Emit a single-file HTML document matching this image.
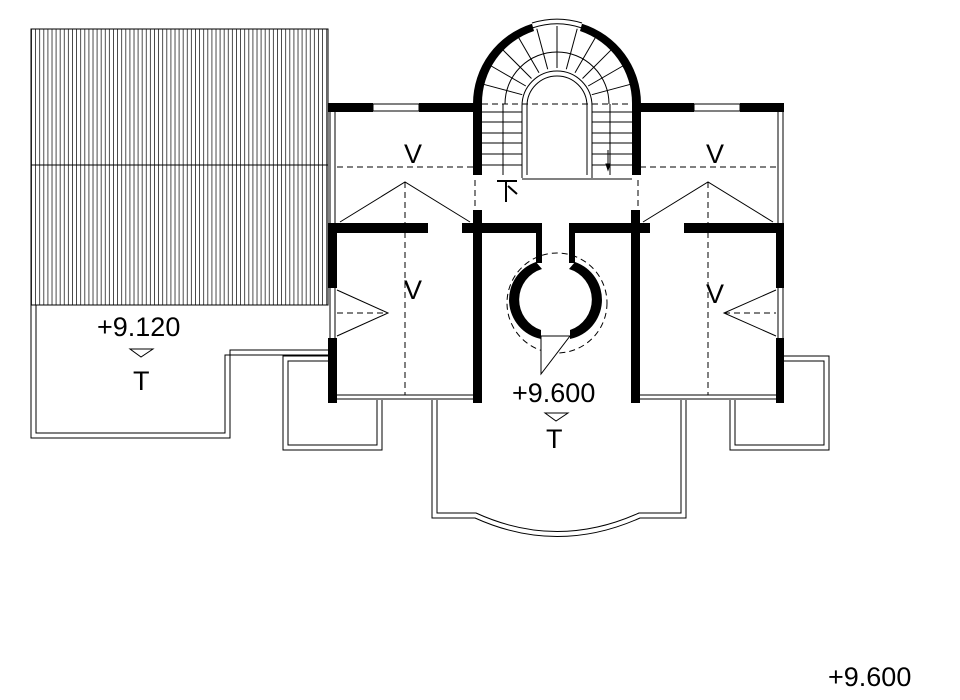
<!DOCTYPE html>
<html><head><meta charset="utf-8"><style>
html,body{margin:0;padding:0;background:#fff}
svg{display:block}
text{font-family:"Liberation Sans",sans-serif;fill:#000}
</style></head><body>
<svg width="960" height="700" viewBox="0 0 960 700" xmlns="http://www.w3.org/2000/svg">
<defs>
<pattern id="roof" x="31" y="0" width="4.1" height="10" patternUnits="userSpaceOnUse">
<line x1="0.5" y1="0" x2="0.5" y2="10" stroke="#000" stroke-width="0.7"/>
</pattern>
</defs>
<g fill="none" stroke="#000" stroke-width="1">
<rect x="31" y="29" width="297" height="276" fill="url(#roof)"/>
<line x1="31" y1="165" x2="328" y2="165"/>
<path d="M31 305 V438 H230 V350 H328"/>
<path d="M36 305 V433 H225 V355 H328"/>
<path d="M328 356 H283 V450 H382 V400"/>
<path d="M328 361 H288 V445 H377 V400"/>
<path d="M784 356 H829 V450 H730 V400"/>
<path d="M784 361 H824 V445 H735 V400"/>
<path d="M432 400 V518 H475 Q557 555 640 518 H686 V400"/>
<path d="M437 400 V513 H476 Q557 550 639 513 H681 V400"/>
<line x1="337" y1="395" x2="473" y2="395"/><line x1="337" y1="399" x2="473" y2="399"/>
<line x1="640" y1="395" x2="776" y2="395"/><line x1="640" y1="399" x2="776" y2="399"/>
<line x1="330" y1="112" x2="330" y2="223"/><line x1="335" y1="112" x2="335" y2="223"/>
<line x1="778" y1="112" x2="778" y2="223"/><line x1="783" y1="112" x2="783" y2="223"/>
<line x1="330" y1="288" x2="330" y2="338"/><line x1="335" y1="288" x2="335" y2="338"/>
<line x1="778" y1="288" x2="778" y2="338"/><line x1="783" y1="288" x2="783" y2="338"/>
<rect x="373" y="104" width="46" height="7"/>
<rect x="694" y="104" width="46" height="7"/>
<line x1="482" y1="112" x2="522" y2="112"/><line x1="482" y1="122" x2="522" y2="122"/>
<line x1="482" y1="133" x2="522" y2="133"/><line x1="482" y1="143" x2="522" y2="143"/>
<line x1="482" y1="154" x2="522" y2="154"/><line x1="482" y1="165" x2="522" y2="165"/>
<line x1="592" y1="112" x2="632" y2="112"/><line x1="592" y1="122" x2="632" y2="122"/>
<line x1="592" y1="133" x2="632" y2="133"/><line x1="592" y1="143" x2="632" y2="143"/>
<line x1="592" y1="154" x2="632" y2="154"/><line x1="592" y1="165" x2="632" y2="165"/>
<line x1="503" y1="104" x2="503" y2="175"/><line x1="610" y1="104" x2="610" y2="175"/>
<path d="M522 178 V106 A35 35 0 0 1 592 106 V178"/>
<path d="M527 175 V106 A30 30 0 0 1 587 106 V175"/>
<path d="M522 179 H632"/>
<path d="M505 104 A52 52 0 0 1 609 104"/>
<path d="M532 23 A84 84 0 0 1 582 23"/>
<path d="M532 28 A77 77 0 0 1 582 28"/>
<line x1="522.2" y1="94.7" x2="481.7" y2="83.8"/><line x1="591.8" y1="94.7" x2="632.3" y2="83.8"/>
<line x1="525.8" y1="86" x2="489.5" y2="65"/><line x1="588.2" y1="86" x2="624.5" y2="65"/>
<line x1="531.5" y1="78.5" x2="501.8" y2="48.8"/><line x1="582.5" y1="78.5" x2="612.2" y2="48.8"/>
<line x1="539" y1="72.8" x2="518" y2="36.5"/><line x1="575" y1="72.8" x2="596" y2="36.5"/>
<line x1="547.7" y1="69.2" x2="536.8" y2="28.7"/><line x1="566.3" y1="69.2" x2="577.2" y2="28.7"/>
<line x1="557" y1="68" x2="557" y2="26"/>
<line x1="608" y1="150" x2="608" y2="170"/>
<path d="M606 164 L608 170 L610 164 Z" fill="#000"/>
<path d="M497 181 H517 M506 181 V202 M508 186 L517 194" stroke-width="2"/>
<g stroke-dasharray="6,4">
<line x1="337" y1="167" x2="473" y2="167"/>
<line x1="640" y1="167" x2="776" y2="167"/>
<line x1="482" y1="104" x2="632" y2="104"/>
<line x1="405" y1="182" x2="405" y2="395"/>
<line x1="708" y1="182" x2="708" y2="395"/>
<line x1="337" y1="313" x2="388" y2="313"/>
<line x1="724" y1="313" x2="776" y2="313"/>
<line x1="475" y1="180" x2="475" y2="210"/>
<line x1="638" y1="180" x2="638" y2="210"/>
<circle cx="557" cy="303" r="50"/>
</g>
<path d="M340 222 L405 182 L470 222"/>
<path d="M643 222 L708 182 L773 222"/>
<path d="M337 290 L388 313 L337 336"/>
<path d="M776 290 L724 313 L776 336"/>
<path d="M541 336 V374 L570 336 Z" fill="#fff"/>
</g>
<g fill="#000">
<rect x="328" y="103" width="45" height="9"/>
<rect x="419" y="103" width="54" height="9"/>
<rect x="641" y="103" width="53" height="9"/>
<rect x="740" y="103" width="44" height="9"/>
<rect x="473" y="104" width="9" height="71"/>
<rect x="632" y="104" width="9" height="71"/>
<path d="M473 104 A84 84 0 0 1 532 23.7 L534 31 A76 76 0 0 0 482 104 Z"/>
<path d="M641 104 A84 84 0 0 0 582 23.7 L580 31 A76 76 0 0 1 632 104 Z"/>
<rect x="328" y="223" width="100" height="10"/>
<rect x="462" y="223" width="80" height="10"/>
<rect x="569" y="223" width="81" height="10"/>
<rect x="684" y="223" width="100" height="10"/>
<rect x="473" y="210" width="9" height="193"/>
<rect x="631" y="210" width="9" height="193"/>
<rect x="328" y="223" width="9" height="65"/>
<rect x="328" y="338" width="9" height="65"/>
<rect x="776" y="223" width="8" height="65"/>
<rect x="776" y="338" width="8" height="65"/>
<rect x="536" y="233" width="6" height="30"/>
<rect x="569" y="233" width="6" height="30"/>
<path fill-rule="evenodd" d="M536 262 A40 40 0 0 0 541 339 L541 330 A32 32 0 0 1 542 269 Z M575 262 A40 40 0 0 1 570 339 L570 330 A32 32 0 0 0 569 269 Z"/>
</g>
<g font-size="27">
<text x="404" y="163">V</text>
<text x="706" y="163">V</text>
<text x="404" y="299">V</text>
<text x="706" y="303">V</text>
<text x="97" y="336">+9.120</text>
<text x="133" y="390">T</text>
<text x="512" y="402">+9.600</text>
<text x="546" y="448">T</text>
<text x="828" y="686">+9.600</text>
</g>
<g fill="none" stroke="#000">
<path d="M130 349 H153 L141 357 Z"/>
<path d="M545 413 H568 L556 421 Z"/>
</g>
</svg>
</body></html>
